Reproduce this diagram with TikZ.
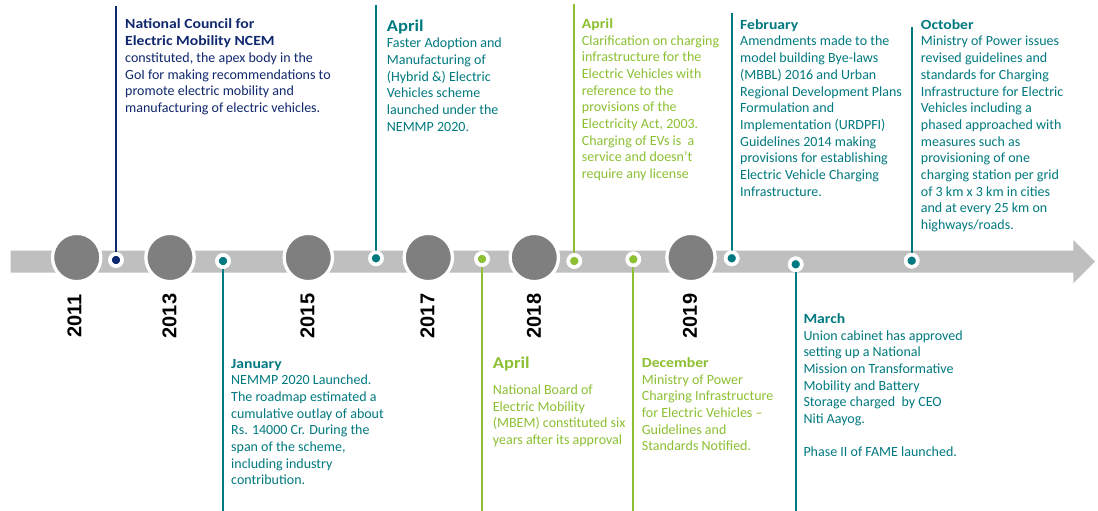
\documentclass[tikz,border=0pt]{standalone}
\usepackage{fontspec}
\newfontfamily\bodyfont{Carlito}[BoldFeatures={FakeStretch=1.12}]
\newfontfamily\yearfont{Liberation Sans}
\definecolor{navy}{RGB}{16,40,110}
\definecolor{tealc}{RGB}{0,122,128}
\definecolor{greenc}{RGB}{140,192,50}
\definecolor{barg}{RGB}{191,191,191}
\definecolor{circg}{RGB}{127,127,127}
\tikzset{
  yearball/.style={circle, fill=circg, draw=white, line width=3.3pt, minimum size=48.3pt, inner sep=0},
  event/.style={circle, fill=#1, draw=white, line width=3.6pt, minimum size=12pt, inner sep=0},
  stem/.style={draw=#1, line width=1.8pt},
  yearlabel/.style={rotate=90, font=\yearfont\bfseries\fontsize{20}{24}\selectfont, inner sep=0},
  blurb/.style={anchor=base west, inner sep=0, align=left, font=\bodyfont\fontsize{14}{16.7}\selectfont}
}
\newcommand\hd[1]{\textbf{#1}}
\newcommand\bighd[1]{{\fontsize{16.5}{16.7}\selectfont\textbf{#1}}}
\begin{document}
\begin{tikzpicture}[x=1pt,y=-1pt]
\useasboundingbox (0,0) rectangle (1098,511);
\fill[white] (0,0) rectangle (1098,511);

% timeline arrow
\fill[barg] (10.7,250.7) -- (1073.3,250.7) -- (1073.3,240) -- (1095,261.7)
  -- (1073.3,283.4) -- (1073.3,272.7) -- (10.7,272.7) -- cycle;

% event markers on the bar
\node[event=navy]   (d1) at (116,260) {};
\node[event=tealc]  (d2) at (223,261) {};
\node[event=tealc]  (d3) at (376,258.3) {};
\node[event=greenc] (d4) at (482,259) {};
\node[event=greenc] (d5) at (574.3,261) {};
\node[event=greenc] (d6) at (633.3,259.3) {};
\node[event=tealc]  (d7) at (731.7,258.3) {};
\node[event=tealc]  (d8) at (795.7,264.3) {};
\node[event=tealc]  (d9) at (911.7,260.7) {};

% stem ends
\coordinate (c1) at (116,6);
\coordinate (c2) at (223,511);
\coordinate (c3) at (376,5);
\coordinate (c4) at (482,511);
\coordinate (c5) at (574.3,4);
\coordinate (c6) at (633.3,511);
\coordinate (c7) at (731.7,13);
\coordinate (c8) at (795.7,511);
\coordinate (c9) at (911.7,27);

% stems
\draw[stem=navy]   (c1) -- (d1);
\draw[stem=tealc]  (c2) -- (d2);
\draw[stem=tealc]  (c3) -- (d3);
\draw[stem=greenc] (c4) -- (d4);
\draw[stem=greenc] (c5) -- (d5);
\draw[stem=greenc] (c6) -- (d6);
\draw[stem=tealc]  (c7) -- (d7);
\draw[stem=tealc]  (c8) -- (d8);
\draw[stem=tealc]  (c9) -- (d9);

% redraw markers above the stems
\node[event=navy]   at (d1) {};
\node[event=tealc]  at (d2) {};
\node[event=tealc]  at (d3) {};
\node[event=greenc] at (d4) {};
\node[event=greenc] at (d5) {};
\node[event=greenc] at (d6) {};
\node[event=tealc]  at (d7) {};
\node[event=tealc]  at (d8) {};
\node[event=tealc]  at (d9) {};

% year balls
\node[yearball] (b1) at (76.7,257.5) {};
\node[yearball] (b2) at (170,257.5) {};
\node[yearball] (b3) at (308.3,257.5) {};
\node[yearball] (b4) at (428.3,257.5) {};
\node[yearball] (b5) at (534.3,257.5) {};
\node[yearball] (b6) at (691,257.5) {};

% year labels
\node[yearlabel] (y1) at (74.5,316) {2011};
\node[yearlabel] (y2) at (169.5,316) {2013};
\node[yearlabel] (y3) at (307.5,316) {2015};
\node[yearlabel] (y4) at (427.5,316) {2017};
\node[yearlabel] (y5) at (534,316) {2018};
\node[yearlabel] (y6) at (690,316) {2019};

% event descriptions
\node[blurb, text=navy] (t1) at (125,29) {\begin{tabular}[t]{@{}l@{}}
\hd{National Council for}\\
\hd{Electric Mobility NCEM}\\
constituted, the apex body in the\\
GoI for making recommendations to\\
promote electric mobility and\\
manufacturing of electric vehicles.
\end{tabular}};

\node[blurb, text=tealc] (t2) at (386.7,31.2) {\begin{tabular}[t]{@{}l@{}}
\bighd{April}\\
Faster Adoption and\\
Manufacturing of\\
(Hybrid \&) Electric\\
Vehicles scheme\\
launched under the\\
NEMMP 2020.
\end{tabular}};

\node[blurb, text=tealc] (t3) at (231,368) {\begin{tabular}[t]{@{}l@{}}
\hd{January}\\
NEMMP 2020 Launched.\\
The roadmap estimated a\\
cumulative outlay of about\\
Rs. 14000 Cr. During the\\
span of the scheme,\\
including industry\\
contribution.
\end{tabular}};

\node[blurb, text=greenc] (t4) at (492.7,368.3) {\begin{tabular}[t]{@{}l@{}}
\bighd{April}\\[9.5pt]
National Board of\\
Electric Mobility\\
(MBEM) constituted six\\
years after its approval
\end{tabular}};

\node[blurb, text=greenc] (t5) at (581.7,28.3) {\begin{tabular}[t]{@{}l@{}}
\hd{April}\\
Clarification on charging\\
infrastructure for the\\
Electric Vehicles with\\
reference to the\\
provisions of the\\
Electricity Act, 2003.\\
Charging of EVs is\ \ a\\
service and doesn’t\\
require any license
\end{tabular}};

\node[blurb, text=greenc] (t6) at (641.7,367.3) {\begin{tabular}[t]{@{}l@{}}
\hd{December}\\
Ministry of Power\\
Charging Infrastructure\\
for Electric Vehicles –\\
Guidelines and\\
Standards Notified.
\end{tabular}};

\node[blurb, text=tealc] (t7) at (740,29.3) {\begin{tabular}[t]{@{}l@{}}
\hd{February}\\
Amendments made to the\\
model building Bye-laws\\
(MBBL) 2016 and Urban\\
Regional Development Plans\\
Formulation and\\
Implementation (URDPFI)\\
Guidelines 2014 making\\
provisions for establishing\\
Electric Vehicle Charging\\
Infrastructure.
\end{tabular}};

\node[blurb, text=tealc] (t8) at (803.3,323.3) {\begin{tabular}[t]{@{}l@{}}
\hd{March}\\
Union cabinet has approved\\
setting up a National\\
Mission on Transformative\\
Mobility and Battery\\
Storage charged\ \ by CEO\\
Niti Aayog.\\
\\
Phase II of FAME launched.
\end{tabular}};

\node[blurb, text=tealc] (t9) at (920.7,29.3) {\begin{tabular}[t]{@{}l@{}}
\hd{October}\\
Ministry of Power issues\\
revised guidelines and\\
standards for Charging\\
Infrastructure for Electric\\
Vehicles including a\\
phased approached with\\
measures such as\\
provisioning of one\\
charging station per grid\\
of 3 km x 3 km in cities\\
and at every 25 km on\\
highways/roads.
\end{tabular}};
\end{tikzpicture}
\end{document}
